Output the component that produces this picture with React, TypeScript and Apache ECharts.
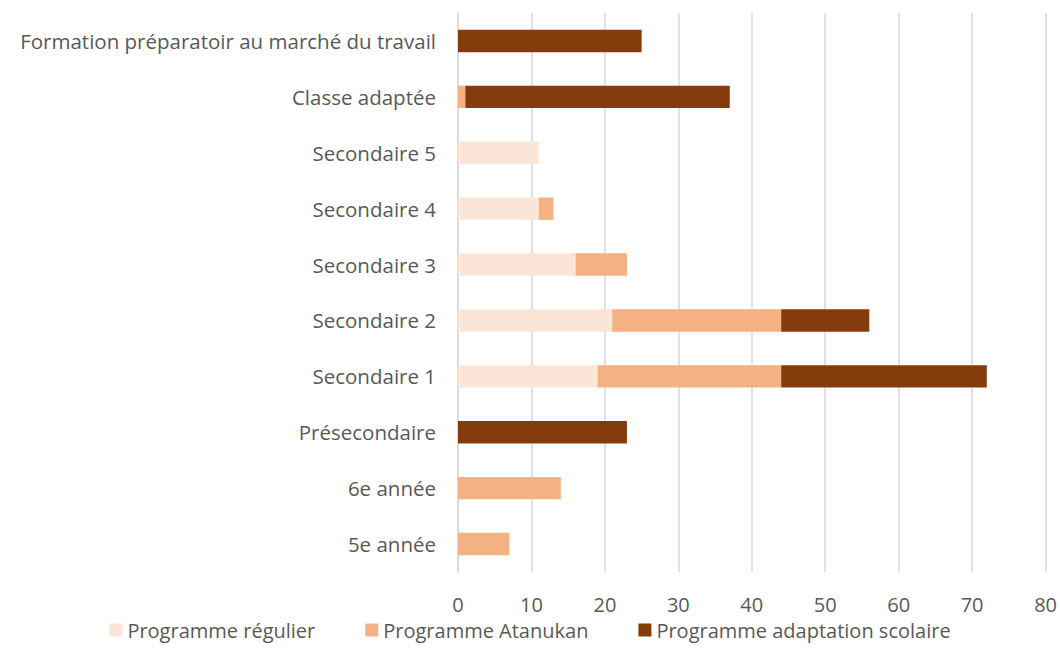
import React, { useEffect, useRef } from "react";
import * as echarts from "echarts";

const categories = [
  "5e année",
  "6e année",
  "Présecondaire",
  "Secondaire 1",
  "Secondaire 2",
  "Secondaire 3",
  "Secondaire 4",
  "Secondaire 5",
  "Classe adaptée",
  "Formation préparatoir au marché du travail",
];
const regulier = [0, 0, 0, 19, 21, 16, 11, 11, 0, 0];
const atanukan = [7, 14, 0, 25, 23, 7, 2, 0, 1, 0];
const adaptation = [0, 0, 23, 28, 12, 0, 0, 0, 36, 25];
const seriesNames = ["Programme régulier", "Programme Atanukan", "Programme adaptation scolaire"];
const colors = ["#FBE5D6", "#F4B183", "#843C0C"];
const FONT = "'Open Sans', 'Noto Sans', sans-serif";

export default function App() {
  const ref = useRef<HTMLDivElement>(null);
  useEffect(() => {
    if (!ref.current) return;
    const chart = echarts.init(ref.current, undefined, { renderer: "svg" });
    const values = [regulier, atanukan, adaptation];
    chart.setOption({
      animation: false,
      color: colors,
      textStyle: { fontFamily: FONT },
      grid: { left: 458, right: 13, top: 13, bottom: 96, containLabel: false },
      legend: {
        bottom: 23,
        left: "center",
        itemWidth: 13,
        itemHeight: 13,
        itemGap: 50,
        icon: "rect",
        textStyle: { fontFamily: FONT, fontSize: 20, color: "#595959", lineHeight: 20 },
        data: seriesNames,
      },
      xAxis: {
        type: "value",
        min: 0,
        max: 80,
        interval: 10,
        axisLine: { show: false },
        axisTick: { show: false },
        axisLabel: { fontFamily: FONT, fontSize: 20, color: "#595959", margin: 22, lineHeight: 20 },
        splitLine: { lineStyle: { color: "#D9D9D9", width: 1.5 } },
      },
      yAxis: {
        type: "category",
        data: categories,
        axisTick: { show: false },
        axisLine: { lineStyle: { color: "#D9D9D9", width: 1.5 } },
        axisLabel: { fontFamily: FONT, fontSize: 20.5, color: "#595959", margin: 22 },
      },
      series: seriesNames.map((name, i) => ({
        name,
        type: "bar",
        stack: "total",
        barCategoryGap: "60%",
        data: values[i],
        itemStyle: { color: colors[i] },
      })),
    });
    return () => chart.dispose();
  }, []);
  return <div ref={ref} style={{ width: 1060, height: 668, position: "absolute", left: 0, top: 0 }} />;
}
